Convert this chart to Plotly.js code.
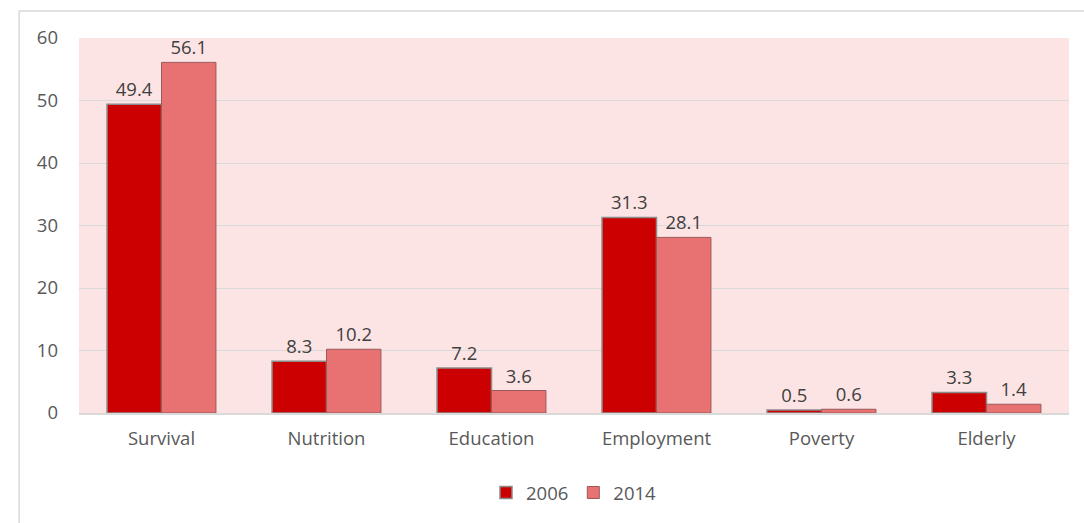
<!DOCTYPE html>
<html>
<head>
<meta charset="utf-8">
<script src="https://cdn.plot.ly/plotly-3.0.1.min.js"></script>
<style>html,body{margin:0;padding:0;background:#fff;}#chart{width:1084px;height:523px;}</style>
</head>
<body>
<div id="chart"></div>
<script>
const categories = ["Survival", "Nutrition", "Education", "Employment", "Poverty", "Elderly"];
const values2006 = [49.4, 8.3, 7.2, 31.3, 0.5, 3.3];
const values2014 = [56.1, 10.2, 3.6, 28.1, 0.6, 1.4];
const seriesNames = ["2006", "2014"];
const yTicks = [0, 10, 20, 30, 40, 50, 60];

const fontFam = "Open Sans, Noto Sans, sans-serif";
const traces = [
  {
    type: "bar", name: seriesNames[0], x: categories, y: values2006,
    marker: {color: "#CC0000", line: {color: "#8a8a8a", width: 1.5}},
    text: values2006.map(v => v.toFixed(1)), textposition: "outside",
    textfont: {family: fontFam, size: 18.5, color: "#404040"}, cliponaxis: false
  },
  {
    type: "bar", name: seriesNames[1], x: categories, y: values2014,
    marker: {color: "#E87272", line: {color: "#9a5a5a", width: 1}},
    text: values2014.map(v => v.toFixed(1)), textposition: "outside",
    textfont: {family: fontFam, size: 18.5, color: "#404040"}, cliponaxis: false
  }
];

const layout = {
  width: 1084, height: 523,
  margin: {l: 79, r: 15, t: 38, b: 109},
  paper_bgcolor: "#ffffff",
  plot_bgcolor: "#FDE4E4",
  font: {family: fontFam, size: 18, color: "#595959"},
  barmode: "group", bargap: 0.34, bargroupgap: 0,
  showlegend: true,
  legend: {orientation: "h", x: 0.5, xanchor: "center", y: -0.21, yanchor: "middle",
           font: {family: fontFam, size: 18.5, color: "#595959"}, itemwidth: 30, traceorder: "normal"},
  xaxis: {showgrid: false, ticks: "", tickfont: {size: 18.5, color: "#595959"}, ticklabelstandoff: 8,
          showline: true, linecolor: "#d9d9d9", linewidth: 2},
  yaxis: {range: [0, 60], tickvals: yTicks, showgrid: true, gridcolor: "#d9d9d9", gridwidth: 1,
          zeroline: false, showline: false, ticks: "", ticklabelstandoff: 20,
          tickfont: {size: 18.5, color: "#595959"}},
  shapes: [
    {type: "rect", xref: "paper", yref: "paper", x0: -0.0605, x1: 1.1, y0: -0.4, y1: 1.0718,
     line: {color: "#d9d9d9", width: 1.5}, fillcolor: "rgba(0,0,0,0)", layer: "below"}
  ]
};

Plotly.newPlot("chart", traces, layout, {displayModeBar: false, staticPlot: true});
</script>
</body>
</html>
